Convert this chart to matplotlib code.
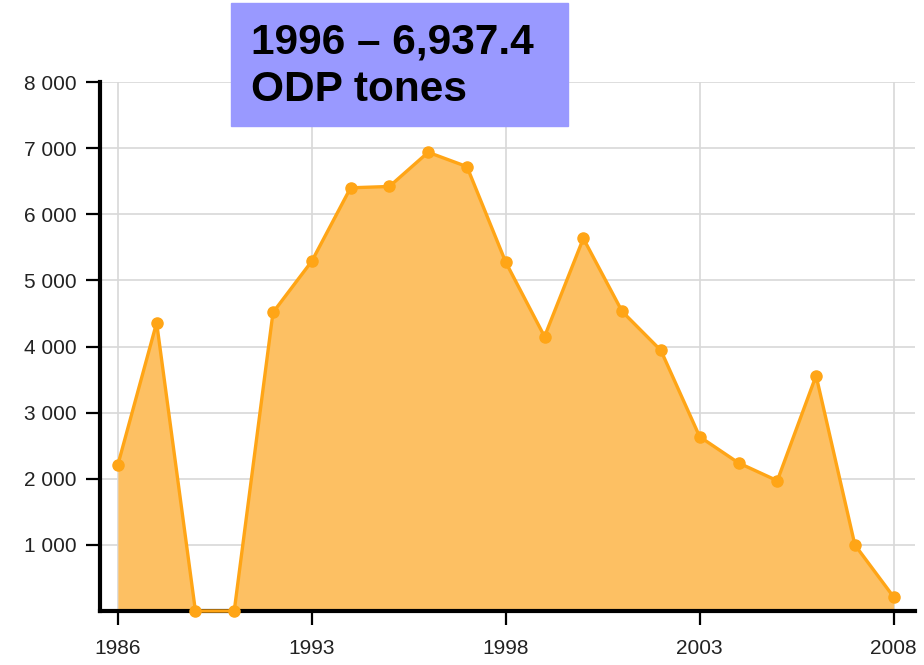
import matplotlib
matplotlib.use("Agg")
import matplotlib.pyplot as plt
from matplotlib.patches import Rectangle

# ------ data ------
values = [2210, 4360, 0, 0, 4515, 5290, 6400, 6420, 6937.4, 6720, 5275,
          4150, 5635, 4530, 3940, 2635, 2240, 1970, 3560, 1000, 212]
tick_pos = [0, 5, 10, 15, 20]
tick_labels = ["1986", "1993", "1998", "2003", "2008"]
y_ticks = [1000, 2000, 3000, 4000, 5000, 6000, 7000, 8000]
y_labels = ["1 000", "2 000", "3 000", "4 000", "5 000", "6 000", "7 000", "8 000"]
note = "1996 \u2013 6,937.4\nODP tones"

plt.rcParams['font.family'] = ['Liberation Sans', 'DejaVu Sans']

fig = plt.figure(figsize=(9.24, 6.65), dpi=100)
ax = fig.add_axes([100/924, 54/665, 815/924, 529/665])

x = list(range(len(values)))
ax.fill_between(x, values, 0, color='#fdc063', linewidth=0, zorder=2)
ax.plot(x, values, color='#ffa516', lw=2.4, marker='o', ms=8, zorder=3, clip_on=False)

ax.set_xlim(-0.46, 20.55)
ax.set_ylim(0, 8000)
ax.set_xticks(tick_pos)
ax.set_xticklabels(tick_labels)
ax.set_yticks(y_ticks)
ax.set_yticklabels(y_labels)

ax.grid(True, color='#d8d8d8', lw=1.2, zorder=1)
ax.set_axisbelow(True)
for s in ['top', 'right']:
    ax.spines[s].set_visible(False)
for s in ['left', 'bottom']:
    ax.spines[s].set_linewidth(3)
    ax.spines[s].set_color('black')
ax.tick_params(direction='out', length=10, width=1.6, labelsize=15, colors='black')
ax.tick_params(axis='y', pad=7, labelcolor='#222222')
ax.tick_params(axis='x', pad=10, labelcolor='#222222')

# annotation box
fig.add_artist(Rectangle((231/924, 1 - 126/665), 337/924, 123/665,
                         transform=fig.transFigure, color='#9999ff', zorder=10))
fig.text(251/924, 1 - 23/665, note, fontsize=30.5, fontweight='bold',
         va='top', ha='left', linespacing=1.22, zorder=11)

plt.savefig("out.png", dpi=100)
